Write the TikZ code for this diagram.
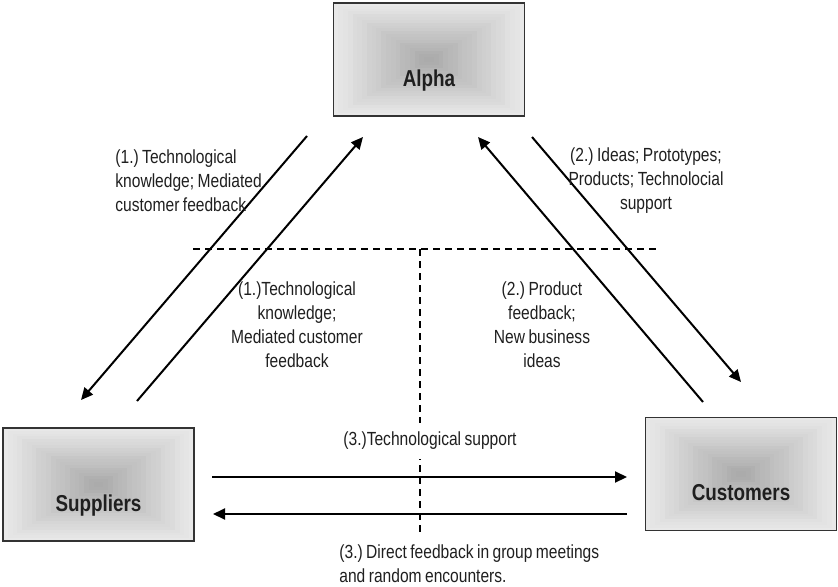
\documentclass[tikz,border=0pt]{standalone}
\usepackage{fontspec}
\setmainfont{Liberation Sans}[FakeStretch=0.82,WordSpace=0.8]
\usetikzlibrary{arrows.meta,calc}
\frenchspacing

\begin{document}
\begin{tikzpicture}[x=0.5pt,y=-0.5pt,
    actor/.style={draw=black!80,line width=0.75pt,minimum width=95.5pt,minimum height=56.5pt,inner sep=0pt,
      text height=26.8pt,text depth=0pt,text=black!88,font=\fontsize{11.5}{13}\selectfont\bfseries,
      path picture={\foreach \i in {0,...,19}{\pgfmathtruncatemacro{\bandtone}{9+1.3*\i}
        \fill[black!\bandtone] ($(path picture bounding box.south west)!\i/40!(path picture bounding box.north east)$)
          rectangle ($(path picture bounding box.north east)!\i/40!(path picture bounding box.south west)$);}}},
    flow/.style={line width=1pt,-{Triangle[length=6pt,width=5.5pt]}},
    note/.style={font=\fontsize{9.5}{12}\selectfont,inner sep=0pt,text=black!88},
    split/.style={line width=0.6pt,dash pattern=on 3.5pt off 2.5pt}]
  \useasboundingbox (0,0) rectangle (838,587);
  \node (alpha) at (429,59.5) [actor] {Alpha};
  \node (suppliers) at (98.5,484.5) [actor] {Suppliers};
  \node (customers) at (741,474) [actor] {Customers};
  \coordinate (A1) at (307,136);
  \coordinate (S1) at (81,400);
  \coordinate (S2) at (137,401);
  \coordinate (A2) at (363,137);
  \coordinate (C1) at (703,402);
  \coordinate (A3) at (478,137);
  \coordinate (A4) at (532,137);
  \coordinate (C2) at (741,382);
  \coordinate (S3) at (212,477);
  \coordinate (C3) at (627,477);
  \coordinate (C4) at (627,514);
  \coordinate (S4) at (213,514);
  \coordinate (L) at (193,249);
  \coordinate (R) at (660,249);
  \coordinate (M) at (420,249);
  \coordinate (B) at (420,532);
  \draw [split] (L) -- (R);
  \draw [split] (M) -- (B);
  \draw [flow] (A1) -- (S1);
  \draw [flow] (S2) -- (A2);
  \draw [flow] (C1) -- (A3);
  \draw [flow] (A4) -- (C2);
  \draw [flow] (S3) -- (C3);
  \draw [flow] (C4) -- (S4);
  \node (techknow) at (115,181) [note,anchor=west,align=left] {(1.) Technological\\knowledge; Mediated\\customer feedback};
  \node (ideas) at (646,181) [note,align=center] {(2.) Ideas; Prototypes;\\Products; Technolocial\\support};
  \node (mediated) at (297,325) [note,align=center] {(1.)Technological\\knowledge;\\Mediated customer\\feedback};
  \node (product) at (542,325) [note,align=center] {(2.) Product\\feedback;\\New business\\ideas};
  \node (support) at (430,441) [note,fill=white,inner xsep=2pt,inner ysep=4.5pt] {(3.)Technological support};
  \node (direct) at (339,564) [note,anchor=west,align=left] {(3.) Direct feedback in group meetings\\and random encounters.};
\end{tikzpicture}
\end{document}
